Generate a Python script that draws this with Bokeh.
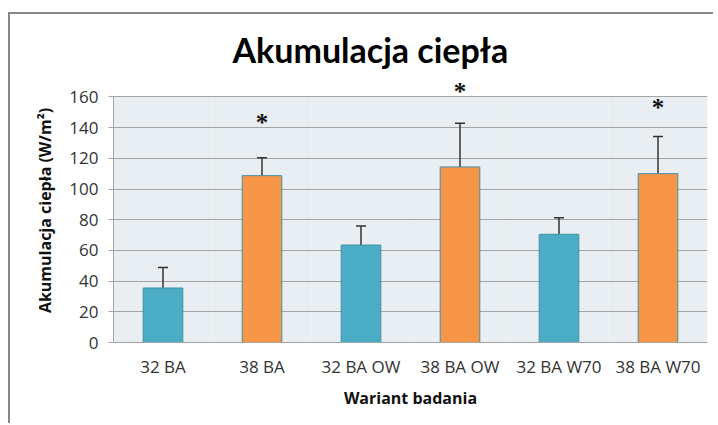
from bokeh.plotting import figure
from bokeh.models import ColumnDataSource, Range1d, Whisker, TeeHead, Title, LabelSet, FixedTicker
from bokeh.embed import file_html
from bokeh.resources import INLINE

categories = ["32 BA", "38 BA", "32 BA OW", "38 BA OW", "32 BA W70", "38 BA W70"]
values = [35.5, 108.7, 63.5, 114.4, 70.5, 110.0]
err_upper = [48.8, 120.4, 75.9, 142.8, 81.2, 134.2]
colors = ["#4BACC6", "#F79646", "#4BACC6", "#F79646", "#4BACC6", "#F79646"]
star_cats = ["38 BA", "38 BA OW", "38 BA W70"]
star_y = [144.8, 165.0, 154.5]
y_ticks = [0, 20, 40, 60, 80, 100, 120, 140, 160]

src = ColumnDataSource(dict(cat=categories, val=values, up=err_upper, col=colors))
star_src = ColumnDataSource(dict(cat=star_cats, y=star_y, t=["*"] * len(star_cats)))

p = figure(x_range=categories, width=705, height=411, output_backend="svg",
           toolbar_location=None, min_border_left=103, min_border_right=8,
           min_border_top=64, min_border_bottom=83,
           margin=(12, 0, 0, 8),
           styles={"border-left": "2px solid #878787", "border-top": "2px solid #878787"})
p.y_range = Range1d(0, 172)
p.x_range.range_padding = 0

p.background_fill_color = "white"
p.border_fill_color = "white"
p.outline_line_color = None

# plot-area background, spanning the value axis up to its top tick
p.vbar(x=categories, top=y_ticks[-1], width=1.0, fill_color="#E8EEF1",
       line_color=None, level="image")

p.vbar(x="cat", top="val", width=0.4, source=src, fill_color="col",
       line_color="#3F8FA6", line_width=1)

w = Whisker(base="cat", lower="val", upper="up", source=src,
            line_color="#333333", line_width=1.5,
            upper_head=TeeHead(size=10, line_color="#333333", line_width=1.5),
            lower_head=None)
p.add_layout(w)

stars = LabelSet(x="cat", y="y", text="t", source=star_src, text_align="center",
                 text_baseline="middle", text_font="DejaVu Sans", text_font_style="bold",
                 text_font_size="25px", text_color="#111111", y_offset=-2)
p.add_layout(stars)

p.yaxis.ticker = FixedTicker(ticks=y_ticks)
p.yaxis.bounds = (y_ticks[0], y_ticks[-1])
p.ygrid.ticker = FixedTicker(ticks=y_ticks)
p.ygrid.grid_line_color = "#A3A3A3"
p.ygrid.grid_line_width = 1
p.xgrid.grid_line_color = None

for ax in [p.xaxis[0], p.yaxis[0]]:
    ax.major_label_text_font = "Open Sans"
    ax.major_label_text_font_size = "17px"
    ax.major_label_text_color = "#333333"
    ax.axis_label_text_font = "Open Sans"
    ax.axis_label_text_font_style = "bold"
    ax.axis_label_text_font_size = "16px"
    ax.axis_label_text_color = "#111111"
    ax.axis_line_color = "#A3A3A3"
    ax.minor_tick_line_color = None

p.yaxis.axis_label = "Akumulacja ciepła (W/m²)"
p.yaxis.major_tick_out = 5
p.yaxis.major_tick_in = 0
p.yaxis.major_tick_line_color = "#A3A3A3"
p.yaxis.major_label_standoff = 10
p.yaxis.axis_label_standoff = 10

p.xaxis.axis_label = "Wariant badania"
p.xaxis.major_tick_line_color = None
p.xaxis.major_label_standoff = 6
p.xaxis.axis_label_standoff = 6

title = Title(text="Akumulacja ciepła", align="left", offset=119,
              text_font="Lato", text_font_style="bold", text_font_size="34px",
              text_color="#000000", standoff=17)
p.add_layout(title, "above")

open("out.html", "w").write(file_html(p, INLINE))
